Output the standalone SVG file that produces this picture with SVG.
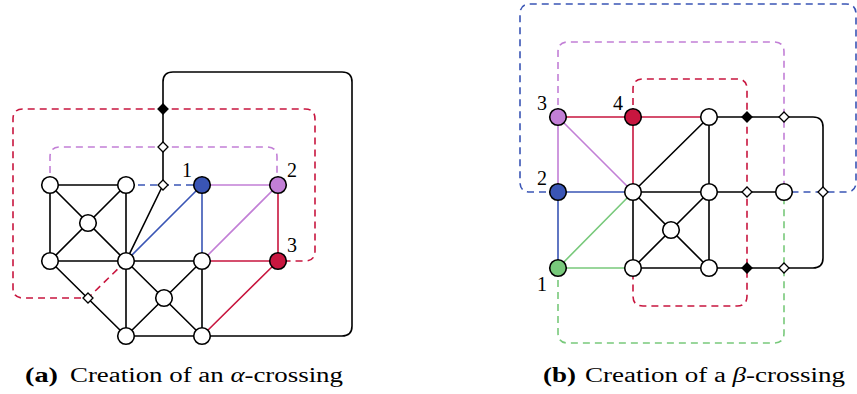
<svg xmlns="http://www.w3.org/2000/svg" width="857" height="394" viewBox="0 0 857 394">
<style>
.e{stroke:#000;stroke-width:1.6;fill:none}
.bl{stroke:#3a55b5;stroke-width:1.6;fill:none}
.pu{stroke:#c27fd6;stroke-width:1.6;fill:none}
.rd{stroke:#c8163f;stroke-width:1.6;fill:none}
.gr{stroke:#78c97b;stroke-width:1.6;fill:none}
.d{stroke-dasharray:7 5}
.n{fill:#fff;stroke:#000;stroke-width:1.6}
.wd{fill:#fff;stroke:#000;stroke-width:1.3}
.bd{fill:#000;stroke:#000;stroke-width:1.3}
.lb{font-family:"Liberation Serif",serif;font-size:20px;fill:#000;text-anchor:middle}
.cap{font-family:"Liberation Serif",serif;font-size:20px;fill:#000}
</style>
<defs>
<path id="dm" d="M0,-5 L5,0 L0,5 L-5,0 Z"/>
</defs>
<g id="connectors">
<!-- left diagram -->
<path class="e" d="M163,185 L163,82 Q163,72 173,72 L342,72 Q352,72 352,82 L352,326 Q352,336 342,336 L202,336"/>
<path class="rd d" d="M126,261 L88,298 L23,298 Q13,298 13,288 L13,119 Q13,109 23,109 L305,109 Q315,109 315,119 L315,251 Q315,261 305,261 L278,261"/>
<path class="pu d" d="M50,185 L50,157 Q50,147 60,147 L267,147 Q277,147 277,157 L277,185"/>
<path class="bl d" d="M126,185 L202,185"/>
<path class="e" d="M50,185 L126,185 M50,185 L50,261 M50,185 L126,261 M126,185 L50,261 M126,185 L126,261 M50,261 L126,261 M50,261 L126,336 M126,261 L126,336 M126,261 L202,336 M202,261 L126,336 M126,336 L202,336 M202,261 L202,336 M126,261 L202,261 M126,261 L163,185"/>
<path class="bl" d="M126,261 L202,185 M202,185 L202,261"/>
<path class="pu" d="M202,185 L278,185 M202,261 L278,185"/>
<path class="rd" d="M278,185 L278,261 M202,261 L278,261 M202,336 L278,261"/>
<!-- right diagram -->
<path class="e" d="M709,117 L813,117 Q823,117 823,127 L823,258 Q823,268 813,268 L709,268"/>
<path class="rd d" d="M633,117 L633,89 Q633,79 643,79 L737,79 Q747,79 747,89 L747,296 Q747,306 737,306 L643,306 Q633,306 633,296 L633,268"/>
<path class="pu d" d="M558,117 L558,52 Q558,42 568,42 L774,42 Q784,42 784,52 L784,192"/>
<path class="bl d" d="M558,192 L530,192 Q520,192 520,182 L520,14 Q520,4 530,4 L846,4 Q856,4 856,14 L856,182 Q856,192 846,192 L784,192"/>
<path class="gr d" d="M558,268 L558,333 Q558,343 568,343 L774,343 Q784,343 784,333 L784,192"/>
<path class="e" d="M633,192 L709,117 M709,117 L709,192 M633,192 L709,192 M633,192 L633,268 M633,192 L709,268 M633,268 L709,192 M633,268 L709,268 M709,192 L709,268 M709,192 L784,192"/>
<path class="rd" d="M558,117 L709,117 M633,117 L633,192"/>
<path class="pu" d="M558,117 L558,192 M558,117 L633,192"/>
<path class="bl" d="M558,192 L633,192 M558,192 L558,268"/>
<path class="gr" d="M558,268 L633,192 M558,268 L633,268"/>
</g>
<g id="crossings">
<use href="#dm" class="wd" x="163" y="185"/>
<use href="#dm" class="wd" x="163" y="147"/>
<use href="#dm" class="bd" x="163" y="109"/>
<use href="#dm" class="wd" x="88" y="298"/>
<use href="#dm" class="bd" x="747" y="117"/>
<use href="#dm" class="wd" x="784" y="117"/>
<use href="#dm" class="wd" x="747" y="192"/>
<use href="#dm" class="wd" x="823" y="192"/>
<use href="#dm" class="bd" x="747" y="268"/>
<use href="#dm" class="wd" x="784" y="268"/>
</g>
<g id="a-nodes">
<g id="a1"><circle class="n" cx="50" cy="185" r="8.3"/></g>
<g id="a2"><circle class="n" cx="126" cy="185" r="8.3"/></g>
<g id="a3"><circle class="n" cx="88" cy="223" r="8.3"/></g>
<g id="a4"><circle class="n" cx="50" cy="261" r="8.3"/></g>
<g id="a5"><circle class="n" cx="126" cy="261" r="8.3"/></g>
<g id="a6"><circle class="n" cx="164" cy="298" r="8.3"/></g>
<g id="a7"><circle class="n" cx="126" cy="336" r="8.3"/></g>
<g id="a8"><circle class="n" cx="202" cy="336" r="8.3"/></g>
<g id="a9"><circle class="n" cx="202" cy="261" r="8.3"/></g>
<g id="aN1"><circle class="n" cx="202" cy="185" r="8.3" style="fill:#3a55b5"/><text class="lb" x="187" y="177">1</text></g>
<g id="aN2"><circle class="n" cx="278" cy="185" r="8.3" style="fill:#c27fd6"/><text class="lb" x="292" y="177">2</text></g>
<g id="aN3"><circle class="n" cx="278" cy="261" r="8.3" style="fill:#c8163f"/><text class="lb" x="292" y="252">3</text></g>
</g>
<g id="b-nodes">
<g id="bN3"><circle class="n" cx="558" cy="117" r="8.3" style="fill:#c27fd6"/><text class="lb" x="542" y="110">3</text></g>
<g id="bN4"><circle class="n" cx="633" cy="117" r="8.3" style="fill:#c8163f"/><text class="lb" x="618" y="110">4</text></g>
<g id="bN2"><circle class="n" cx="558" cy="192" r="8.3" style="fill:#3a55b5"/><text class="lb" x="542" y="185">2</text></g>
<g id="bN1"><circle class="n" cx="558" cy="268" r="8.3" style="fill:#78c97b"/><text class="lb" x="542" y="291">1</text></g>
<g id="b1"><circle class="n" cx="709" cy="117" r="8.3"/></g>
<g id="b2"><circle class="n" cx="633" cy="192" r="8.3"/></g>
<g id="b3"><circle class="n" cx="709" cy="192" r="8.3"/></g>
<g id="b4"><circle class="n" cx="671" cy="230" r="8.3"/></g>
<g id="b5"><circle class="n" cx="633" cy="268" r="8.3"/></g>
<g id="b6"><circle class="n" cx="709" cy="268" r="8.3"/></g>
<g id="b7"><circle class="n" cx="784" cy="192" r="8.3"/></g>
</g>
<g id="captions">
<text class="cap" x="25" y="382" font-weight="bold" textLength="33" lengthAdjust="spacingAndGlyphs">(a)</text>
<text class="cap" x="70" y="382" textLength="273" lengthAdjust="spacingAndGlyphs">Creation of an <tspan font-style="italic">α</tspan>-crossing</text>
<text class="cap" x="543" y="382" font-weight="bold" textLength="33" lengthAdjust="spacingAndGlyphs">(b)</text>
<text class="cap" x="585" y="382" textLength="260" lengthAdjust="spacingAndGlyphs">Creation of a <tspan font-style="italic">β</tspan>-crossing</text>
</g>
</svg>
